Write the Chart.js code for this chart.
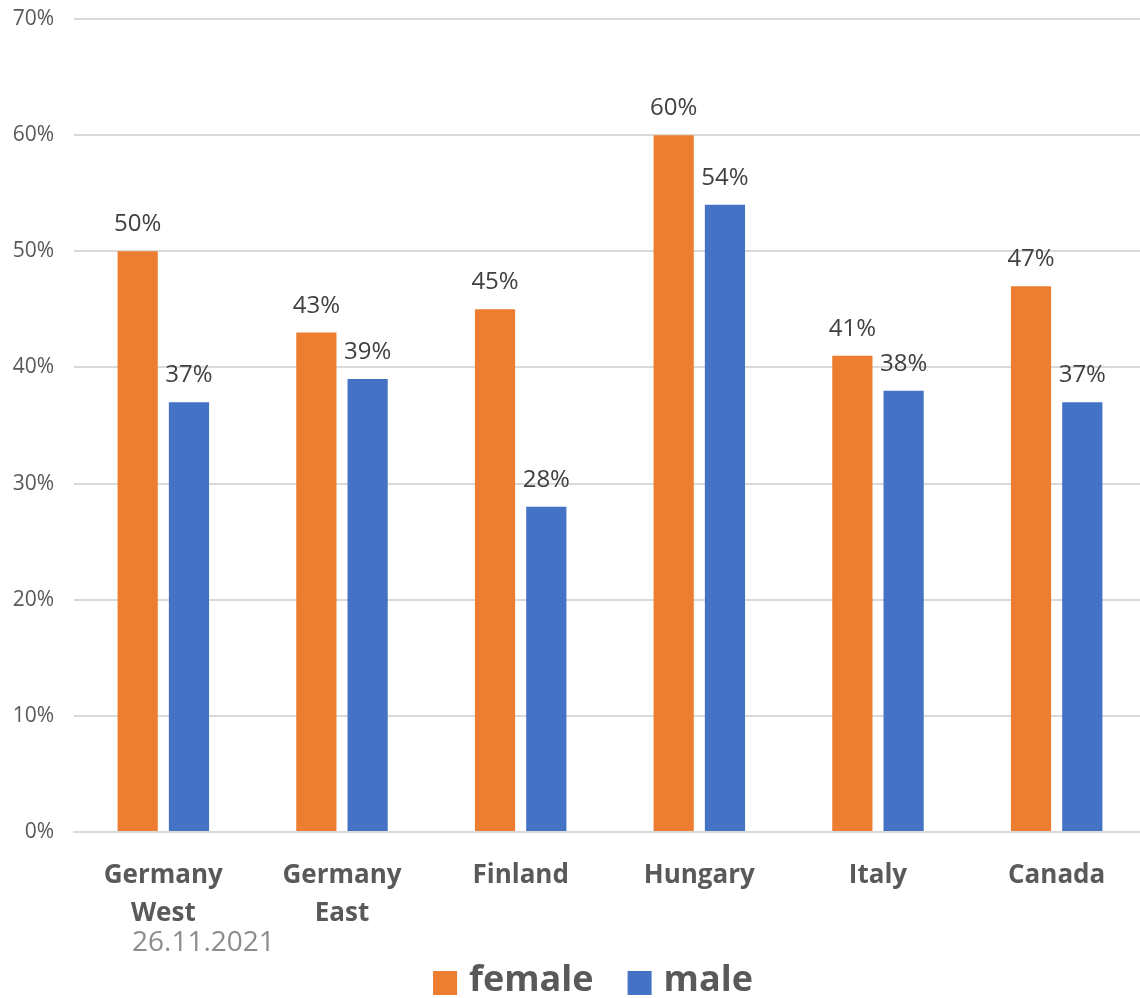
<!DOCTYPE html>
<html lang="en">
<head>
    <meta charset="UTF-8">
    <title>female / male</title>
    <script src="https://cdn.jsdelivr.net/npm/chart.js"></script>
    <style>
        html, body { margin: 0; padding: 0; background: #fff; overflow: hidden; }
        #wrap { width: 1146px; height: 998px; position: relative; }
    </style>
</head>
<body>
    <div id="wrap"><canvas id="chart"></canvas></div>

    <script>
        const countries = [["Germany", "West"], ["Germany", "East"], "Finland", "Hungary", "Italy", "Canada"];
        const femaleValues = [50, 43, 45, 60, 41, 47];
        const maleValues = [37, 39, 28, 54, 38, 37];
        const yTicks = [0, 10, 20, 30, 40, 50, 60, 70];
        const dateNote = "26.11.2021";

        const font = "'Open Sans', sans-serif";

        // value labels above each bar
        const barLabels = {
            id: "barLabels",
            afterDatasetsDraw(chart) {
                const ctx = chart.ctx;
                ctx.save();
                ctx.font = "24px " + font;
                ctx.fillStyle = "#404040";
                ctx.textAlign = "center";
                ctx.textBaseline = "alphabetic";
                chart.data.datasets.forEach((ds, i) => {
                    chart.getDatasetMeta(i).data.forEach((bar, j) => {
                        ctx.fillText(ds.data[j] + "%", bar.x, bar.y - 20);
                    });
                });
                ctx.restore();
            }
        };

        // date under the first category + legend at the bottom
        const footer = {
            id: "footer",
            afterDraw(chart) {
                const ctx = chart.ctx;
                ctx.save();
                ctx.font = "28px " + font;
                ctx.fillStyle = "#8c8c8c";
                ctx.textAlign = "left";
                ctx.textBaseline = "middle";
                ctx.fillText(dateNote, 132, 943);

                ctx.font = "bold 36px " + font;
                const box = 24, gap = 12, itemGap = 34;
                const items = chart.data.datasets.map(ds => ({
                    label: ds.label, color: ds.backgroundColor, w: ctx.measureText(ds.label).width
                }));
                const total = items.reduce((s, it) => s + box + gap + it.w, 0) + itemGap * (items.length - 1);
                let x = 593 - total / 2;
                const cy = 983;
                items.forEach(it => {
                    ctx.fillStyle = it.color;
                    ctx.fillRect(x, cy - box / 2, box, box);
                    ctx.fillStyle = "#595959";
                    ctx.fillText(it.label, x + box + gap, cy - 2);
                    x += box + gap + it.w + itemGap;
                });
                ctx.restore();
            }
        };

        new Chart(document.getElementById("chart"), {
            type: "bar",
            data: {
                labels: countries,
                datasets: [
                    { label: "female", data: femaleValues, backgroundColor: "#ED7D31" },
                    { label: "male", data: maleValues, backgroundColor: "#4472C4" }
                ]
            },
            options: {
                responsive: true,
                maintainAspectRatio: false,
                animation: false,
                layout: { padding: { top: 19, right: 0, bottom: 0, left: 0 } },
                datasets: { bar: { categoryPercentage: 0.574, barPercentage: 0.784 } },
                plugins: {
                    tooltip: { enabled: false },
                    legend: { display: false }
                },
                scales: {
                    x: {
                        grid: { display: false },
                        border: { display: true, color: "#d9d9d9", width: 2 },
                        ticks: {
                            color: "#595959",
                            font: { family: font, size: 26, weight: "bold", lineHeight: 1.45 },
                            padding: 17,
                            maxRotation: 0
                        },
                        afterFit(scale) { scale.height = 166; }
                    },
                    y: {
                        min: 0,
                        max: 70,
                        afterBuildTicks(scale) { scale.ticks = yTicks.map(v => ({ value: v })); },
                        grid: { color: "#d9d9d9", lineWidth: 2, drawTicks: false },
                        border: { display: false },
                        ticks: {
                            color: "#595959",
                            font: { family: font, size: 21 },
                            padding: 20,
                            callback: v => v + "%"
                        },
                        afterFit(scale) {
                            scale.width = 74;
                            scale.paddingTop = 0;
                            scale.paddingBottom = 0;
                        }
                    }
                }
            },
            plugins: [barLabels, footer]
        });
    </script>
</body>
</html>
